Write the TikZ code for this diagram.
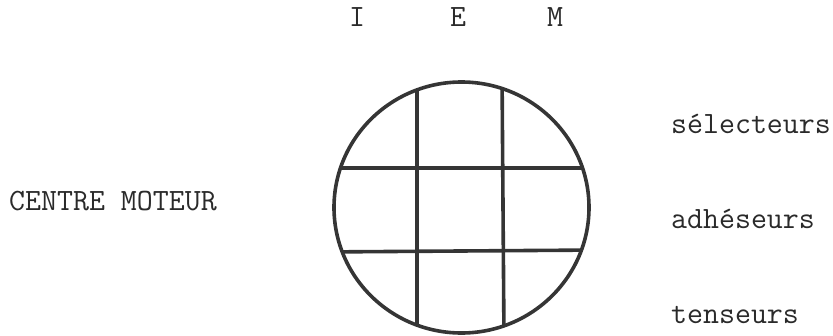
\documentclass[tikz,border=0pt]{standalone}
\begin{document}
\begin{tikzpicture}[x=1pt,y=-1pt,
  lbl/.style={inner sep=0pt,font=\ttfamily\fontsize{31}{36}\selectfont,text=txt},
  stroke/.style={draw=ink,line width=3.6pt}]
\definecolor{ink}{HTML}{353535}
\definecolor{txt}{HTML}{2A2A2A}
\useasboundingbox (0,0) rectangle (833,335);
% circle with grid
\begin{scope}
  \clip (461.5,207.5) ellipse [x radius=127.5, y radius=125.5];
  \draw[stroke] (417,70) -- (417,340);
  \draw[stroke] (502,70) -- (504,340);
  \draw[stroke] (320,168) -- (600,168);
  \draw[stroke] (320,252) -- (600,250);
\end{scope}
\draw[stroke] (461.5,207.5) ellipse [x radius=127.5, y radius=125.5];
% column labels
\node[lbl,anchor=base] (I) at (357,26) {I};
\node[lbl,anchor=base] (E) at (458,26) {E};
\node[lbl,anchor=base] (M) at (555,26) {M};
% left label
\node[lbl,anchor=base west] (cm) at (9,210) {CENTRE MOTEUR};
% right labels
\node[lbl,anchor=base west] (sel) at (671,133) {sélecteurs};
\node[lbl,anchor=base west] (adh) at (671,228) {adhéseurs};
\node[lbl,anchor=base west] (ten) at (671,323) {tenseurs};
\end{tikzpicture}
\end{document}
